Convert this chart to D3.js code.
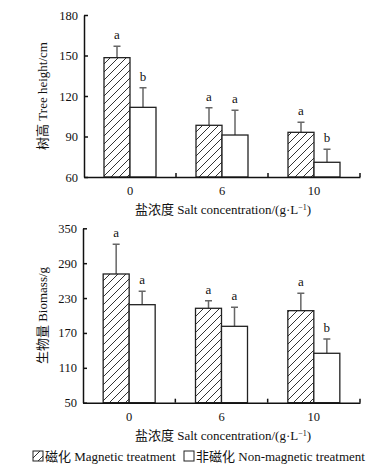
<!DOCTYPE html>
<html>
<head>
<meta charset="utf-8">
<script src="https://cdn.jsdelivr.net/npm/d3@7"></script>
<style>
  body { margin: 0; background: #fff; }
  text { font-family: "Liberation Serif", "Noto Sans CJK SC", serif; fill: #111; }
</style>
</head>
<body>
<div id="chart"></div>
<script>
/* DATA */
const salt = ["0", "6", "10"];
// tree height (cm)
const heightMag = [148.4, 98.3, 93.1];
const heightMagSD = [8.4, 13.0, 7.4];
const heightNon = [111.6, 91.1, 70.9];
const heightNonSD = [14.6, 18.3, 9.6];
const heightMagLetter = ["a", "a", "a"];
const heightNonLetter = ["b", "a", "b"];
const heightTicks = [60, 90, 120, 150, 180];
// biomass (g)
const massMag = [271.4, 212.4, 208.3];
const massMagSD = [51.1, 13.1, 29.9];
const massNon = [218.6, 181.4, 135.0];
const massNonSD = [23.0, 32.7, 24.6];
const massMagLetter = ["a", "a", "a"];
const massNonLetter = ["a", "a", "b"];
const massTicks = [50, 110, 170, 230, 290, 350];

const width = 378, height = 465;
const barW = 26;

const svg = d3.select("#chart").append("svg")
  .attr("width", width)
  .attr("height", height);

// hatch pattern for the magnetic bars
const defs = svg.append("defs");
defs.append("pattern")
  .attr("id", "hatch")
  .attr("patternUnits", "userSpaceOnUse")
  .attr("width", 8).attr("height", 8)
  .call(p => {
    p.append("rect").attr("width", 8).attr("height", 8).attr("fill", "#fff");
    p.append("path")
      .attr("d", "M-2,2 L2,-2 M0,8 L8,0 M6,10 L10,6")
      .attr("stroke", "#333").attr("stroke-width", 1);
  });

function panel(cfg) {
  const x = d3.scaleBand().domain(salt).range([cfg.left, 360]).padding(0);
  const y = d3.scaleLinear().domain(cfg.domain).range([cfg.bottom, cfg.top]);

  const rows = salt.map((s, i) => [
    { s, v: cfg.mag[i], sd: cfg.magSD[i], l: cfg.magL[i], k: 0 },
    { s, v: cfg.non[i], sd: cfg.nonSD[i], l: cfg.nonL[i], k: 1 }
  ]).flat();
  const bx = d => x(d.s) + x.bandwidth() / 2 + (d.k === 0 ? -barW : 0);

  const g = svg.append("g");

  // error bars (upper half only)
  g.selectAll(".err")
    .data(rows)
    .join("path")
    .attr("d", d => {
      const cx = bx(d) + barW / 2;
      return `M${cx},${y(d.v)}V${y(d.v + d.sd)}M${cx - 3.5},${y(d.v + d.sd)}H${cx + 3.5}`;
    })
    .attr("stroke", "#666").attr("stroke-width", 1.5).attr("fill", "none");

  g.selectAll(".bar")
    .data(rows)
    .join("rect")
    .attr("x", bx)
    .attr("y", d => y(d.v))
    .attr("width", barW)
    .attr("height", d => y(cfg.domain[0]) - y(d.v))
    .attr("fill", d => d.k === 0 ? "url(#hatch)" : "#fff")
    .attr("stroke", "#222").attr("stroke-width", 1.3);

  g.selectAll(".sig")
    .data(rows)
    .join("text")
    .attr("x", d => bx(d) + barW / 2)
    .attr("y", d => y(d.v + d.sd) - 7)
    .attr("text-anchor", "middle")
    .attr("font-size", 13)
    .text(d => d.l);

  // y axis
  const yAxis = g.append("g")
    .attr("transform", `translate(${cfg.left},0)`)
    .call(d3.axisLeft(y).tickValues(cfg.ticks).tickSizeInner(-4).tickSizeOuter(0).tickPadding(6));
  yAxis.selectAll("text").attr("font-size", 12.5);
  yAxis.selectAll("path, line").attr("stroke", "#111").attr("stroke-width", 1.5);

  // x axis
  const xAxis = g.append("g")
    .attr("transform", `translate(0,${cfg.bottom})`)
    .call(d3.axisBottom(x).tickSize(0).tickPadding(9));
  xAxis.selectAll("text").attr("font-size", 12.5);
  xAxis.select(".domain").attr("stroke", "#111").attr("stroke-width", 1.5);
  xAxis.selectAll(".bound")
    .data(salt)
    .join("line")
    .attr("x1", d => x(d) + x.bandwidth())
    .attr("x2", d => x(d) + x.bandwidth())
    .attr("y1", 0).attr("y2", -4)
    .attr("stroke", "#111").attr("stroke-width", 1.5);

  g.append("text")
    .attr("x", 223).attr("y", cfg.bottom + 37)
    .attr("text-anchor", "middle")
    .attr("font-size", 13)
    .call(t => {
      t.append("tspan").text("盐浓度 Salt concentration/(g·L");
      t.append("tspan").attr("dy", -4).attr("font-size", 8).text("−1");
      t.append("tspan").attr("dy", 4).text(")");
    });

  g.append("text")
    .attr("transform", `translate(47,${(cfg.top + cfg.bottom) / 2}) rotate(-90)`)
    .attr("text-anchor", "middle")
    .attr("font-size", 13)
    .text(cfg.ytitle);
}

panel({
  left: 84, top: 15, bottom: 177, domain: [60, 180], ticks: heightTicks,
  mag: heightMag, magSD: heightMagSD, non: heightNon, nonSD: heightNonSD,
  magL: heightMagLetter, nonL: heightNonLetter, ytitle: "树高 Tree height/cm"
});

panel({
  left: 83, top: 228.3, bottom: 402.7, domain: [50, 350], ticks: massTicks,
  mag: massMag, magSD: massMagSD, non: massNon, nonSD: massNonSD,
  magL: massMagLetter, nonL: massNonLetter, ytitle: "生物量 Biomass/g"
});

// legend
const legend = svg.append("g").attr("transform", "translate(0,451)");
const items = [
  { fill: "url(#hatch)", label: "磁化 Magnetic treatment", x: 33 },
  { fill: "#fff", label: "非磁化 Non-magnetic treatment", x: 184 }
];
legend.selectAll("rect")
  .data(items)
  .join("rect")
  .attr("x", d => d.x).attr("y", 0)
  .attr("width", 10).attr("height", 10)
  .attr("fill", d => d.fill)
  .attr("stroke", "#222").attr("stroke-width", 1);
legend.selectAll("text")
  .data(items)
  .join("text")
  .attr("x", d => d.x + 12).attr("y", 10)
  .attr("font-size", 13)
  .text(d => d.label);
</script>
</body>
</html>
